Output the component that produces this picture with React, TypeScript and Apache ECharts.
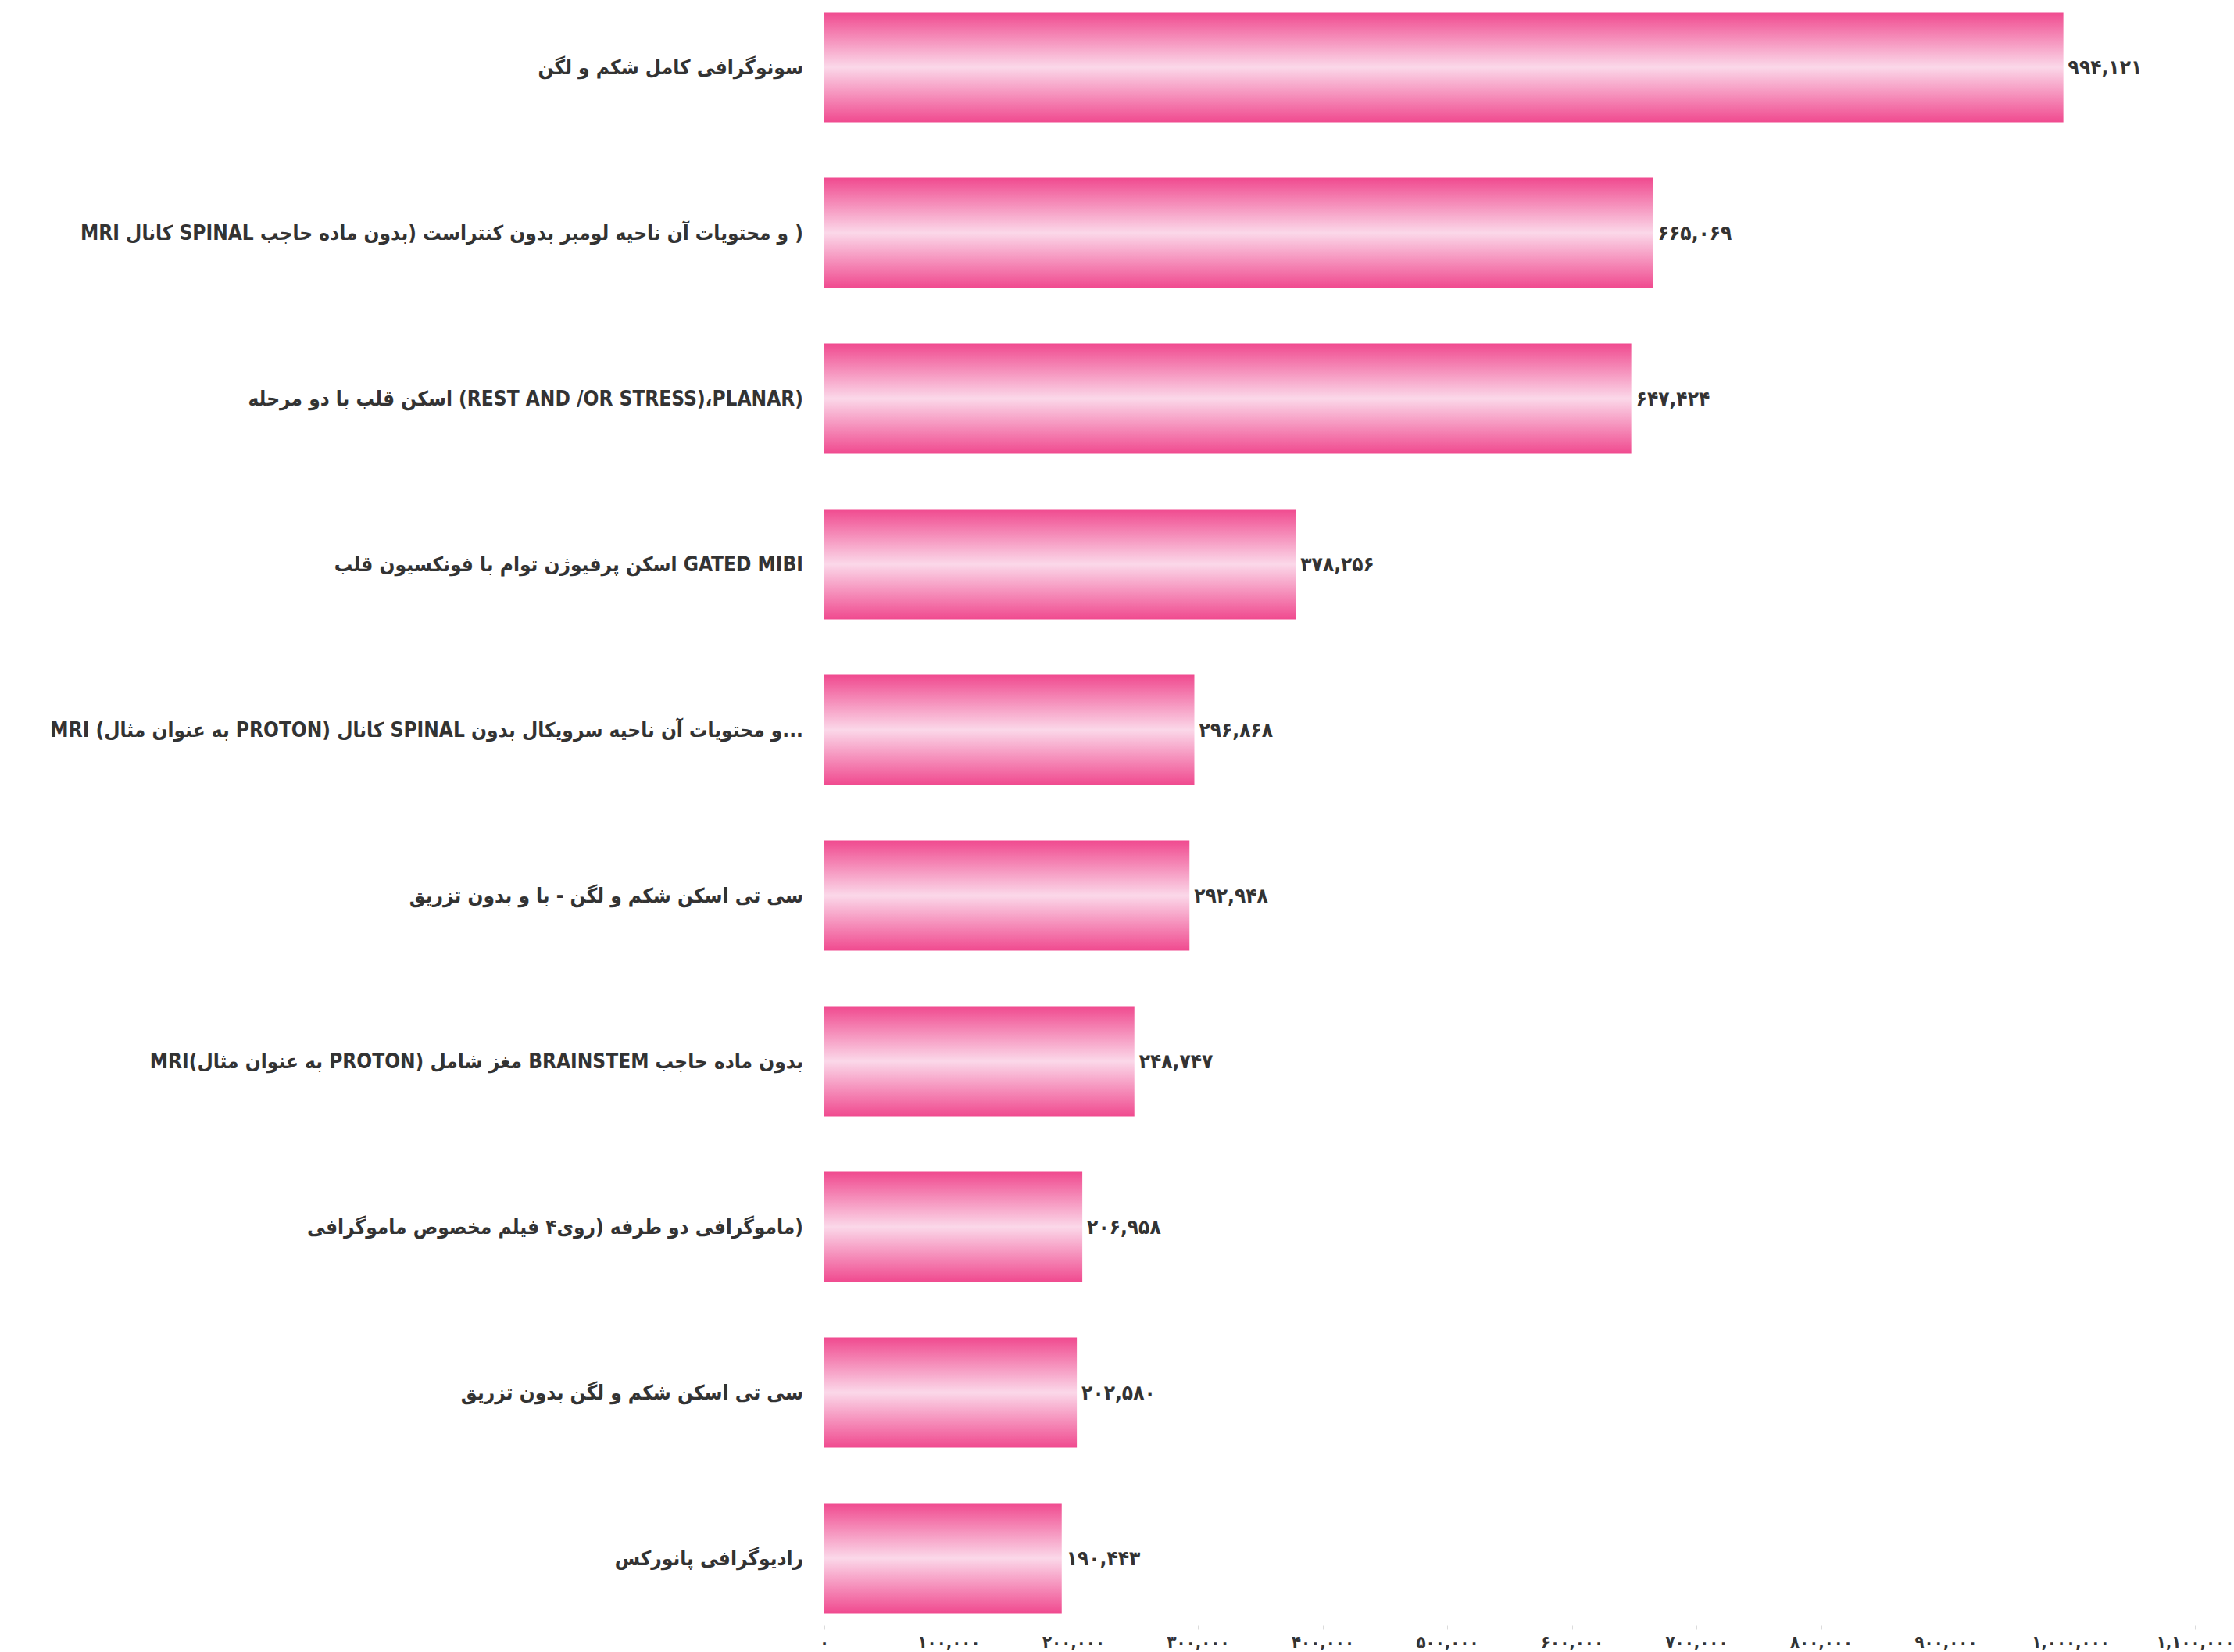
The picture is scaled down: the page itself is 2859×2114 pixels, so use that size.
import React, { useEffect, useRef } from "react";
import * as echarts from "echarts";

const categories = [
  "سونوگرافی کامل شکم و لگن",
  "MRI کانال SPINAL و محتویات آن ناحیه لومبر بدون کنتراست (بدون ماده حاجب \u2066)\u2069",
  "اسکن قلب با دو مرحله (REST AND /OR STRESS)،PLANAR)",
  "اسکن پرفیوژن توام با فونکسیون قلب GATED MIBI",
  "MRI (به عنوان مثال PROTON) کانال SPINAL و محتویات آن ناحیه سرویکال بدون...",
  "سی تی اسکن شکم و لگن - با و بدون تزریق",
  "MRI(به عنوان مثال PROTON) مغز شامل BRAINSTEM بدون ماده حاجب",
  "ماموگرافی دو طرفه (روی۴ فیلم مخصوص ماموگرافی\u2066)\u2069",
  "سی تی اسکن شکم و لگن بدون تزریق",
  "رادیوگرافی پانورکس",
];

const values = [994121, 665069, 647424, 378256, 296868, 292948, 248747, 206958, 202580, 190443];

const axisMin = 0;
const axisMax = 1100000;
const axisStep = 100000;

const FA_DIGITS = "۰۱۲۳۴۵۶۷۸۹";
const toFa = (n: number) =>
  Math.round(n)
    .toLocaleString("en-US")
    .replace(/\d/g, (d) => FA_DIGITS[Number(d)]);

export default function App() {
  const ref = useRef<HTMLDivElement>(null);

  useEffect(() => {
    if (!ref.current) return;
    const chart = echarts.init(ref.current, undefined, { renderer: "svg" });
    const font = "'DejaVu Sans Condensed', 'DejaVu Sans', sans-serif";
    chart.setOption({
      animation: false,
      backgroundColor: "#ffffff",
      grid: {
        left: 1055,
        right: 49.5,
        top: 0,
        height: 2120,
        containLabel: false,
        outerBoundsMode: "none",
      },
      xAxis: {
        type: "value",
        min: axisMin,
        max: axisMax,
        interval: axisStep,
        offset: -19.5,
        axisLine: { show: false },
        axisTick: { show: true, length: 5, lineStyle: { color: "#dcdcdc", width: 1 } },
        splitLine: { show: false },
        axisLabel: {
          margin: 10,
          fontFamily: font,
          fontSize: 22,
          fontWeight: "bold",
          color: "#333333",
          formatter: (v: number) => toFa(v),
        },
      },
      yAxis: {
        type: "category",
        inverse: true,
        data: categories,
        axisLine: { show: false },
        axisTick: { show: false },
        axisLabel: {
          margin: 27,
          fontFamily: font,
          fontSize: 26,
          fontWeight: "bold",
          color: "#333333",
        },
      },
      series: [
        {
          type: "bar",
          data: values,
          barWidth: 141,
          itemStyle: {
            color: {
              type: "linear",
              x: 0,
              y: 0,
              x2: 0,
              y2: 1,
              colorStops: [
                { offset: 0, color: "#F04A8F" },
                { offset: 0.5, color: "#FBD8E9" },
                { offset: 1, color: "#F04A8F" },
              ],
            },
          },
          label: {
            show: true,
            position: "right",
            distance: 6,
            fontFamily: font,
            fontSize: 26,
            fontWeight: "bold",
            color: "#333333",
            formatter: (p: any) => toFa(p.value),
          },
        },
      ],
    });
    return () => chart.dispose();
  }, []);

  return (
    <div
      ref={ref}
      style={{ position: "fixed", left: 0, top: -20.5, width: 2859, height: 2134.5 }}
    />
  );
}
